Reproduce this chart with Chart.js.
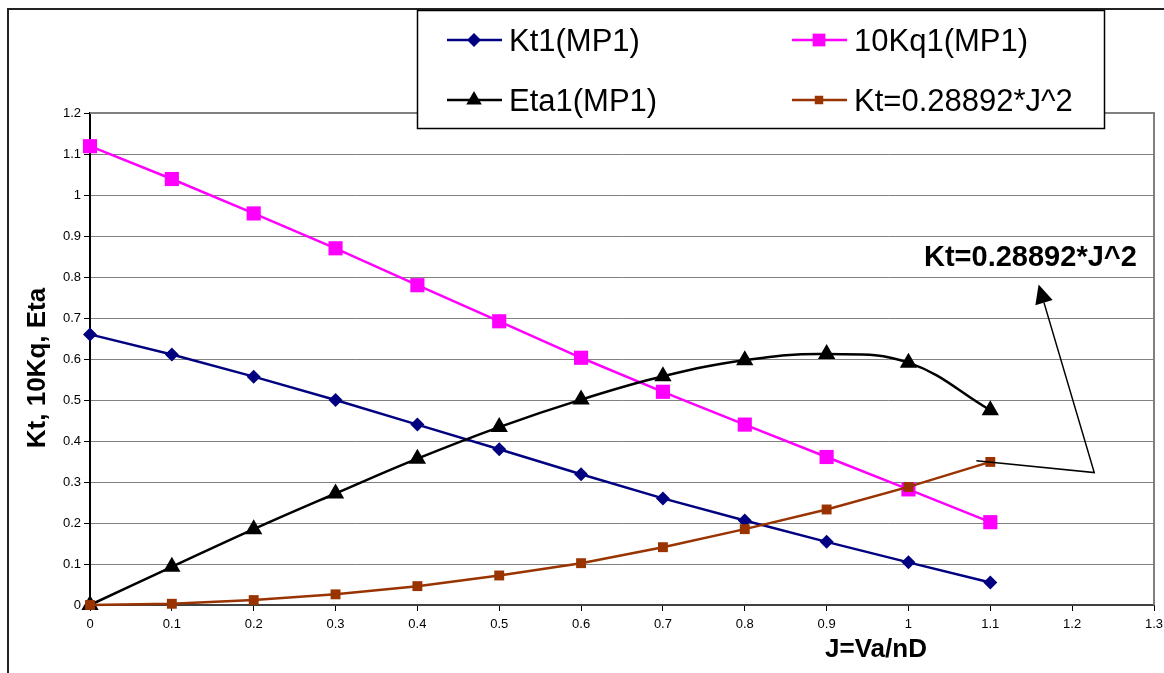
<!DOCTYPE html>
<html>
<head>
<meta charset="utf-8">
<script src="https://cdn.jsdelivr.net/npm/chart.js@4.4.1/dist/chart.umd.min.js"></script>
<style>
html,body{margin:0;padding:0;background:#fff;overflow:hidden}
#wrap{width:1164px;height:673px;position:relative}
</style>
</head>
<body>
<div id="wrap"><canvas id="c" width="1164" height="673"></canvas></div>
<script>
// ---- data ----
const J        = [0, 0.1, 0.2, 0.3, 0.4, 0.5, 0.6, 0.7, 0.8, 0.9, 1.0, 1.1];
const kt1      = [0.66, 0.611, 0.557, 0.5, 0.44, 0.38, 0.319, 0.26, 0.206, 0.154, 0.104, 0.055];
const kq10     = [1.119, 1.039, 0.955, 0.87, 0.78, 0.692, 0.603, 0.52, 0.44, 0.361, 0.282, 0.202];
const eta1     = [0, 0.093, 0.185, 0.272, 0.357, 0.434, 0.501, 0.558, 0.597, 0.612, 0.591, 0.475];
const ktFit    = [0, 0.003, 0.012, 0.026, 0.046, 0.072, 0.102, 0.141, 0.185, 0.233, 0.288, 0.349];
const seriesLabels = ['Kt1(MP1)', '10Kq1(MP1)', 'Eta1(MP1)', 'Kt=0.28892*J^2'];
const xTitle = 'J=Va/nD';
const yTitle = 'Kt, 10Kq, Eta';
const annoText = 'Kt=0.28892*J^2';
// annotation arrow path in data units: start, corner, tip
const annoPath = [[1.083, 0.352], [1.227, 0.323], [1.159, 0.782]];
const annoTextPos = [1.019, 0.826];

const FONT = '"Liberation Sans", Arial, Helvetica, sans-serif';
const pts = arr => J.map((x, i) => ({x: x, y: arr[i]}));

function marker(ctx, style, x, y, r, color) {
  ctx.save();
  ctx.fillStyle = color;
  ctx.beginPath();
  if (style === 'rectRot') {
    ctx.moveTo(x, y - r); ctx.lineTo(x + r, y); ctx.lineTo(x, y + r); ctx.lineTo(x - r, y);
  } else if (style === 'rect') {
    const h = r * Math.SQRT1_2;
    ctx.rect(x - h, y - h, 2 * h, 2 * h);
  } else if (style === 'triangle') {
    for (let k = 0; k < 3; k++) {
      const a = k * 2 * Math.PI / 3;
      const px = x + Math.sin(a) * r, py = y - Math.cos(a) * r;
      if (k === 0) ctx.moveTo(px, py); else ctx.lineTo(px, py);
    }
  }
  ctx.closePath();
  ctx.fill();
  ctx.restore();
}

const styles = [
  {color: '#000080', style: 'rectRot', r: 7, lr: 7},
  {color: '#FF00FF', style: 'rect', r: 10, lr: 9},
  {color: '#000000', style: 'triangle', r: 10, lr: 9},
  {color: '#993300', style: 'rect', r: 7, lr: 6}
];

const decor = {
  id: 'decor',
  beforeDraw(chart) {
    const ctx = chart.ctx;
    ctx.save();
    ctx.fillStyle = '#fff';
    ctx.fillRect(0, 0, chart.width, chart.height);
    ctx.restore();
  },
  beforeDatasetsDraw(chart) {
    const {ctx, chartArea: a} = chart;
    ctx.save();
    ctx.strokeStyle = '#808080';
    ctx.lineWidth = 2;
    ctx.beginPath();
    ctx.moveTo(a.left, a.top);
    ctx.lineTo(a.right, a.top);
    ctx.lineTo(a.right, a.bottom);
    ctx.stroke();
    ctx.restore();
  },
  afterDraw(chart) {
    const {ctx, scales: {x, y}} = chart;
    ctx.save();
    // outer frame
    ctx.strokeStyle = '#222';
    ctx.lineWidth = 2;
    ctx.beginPath();
    ctx.moveTo(8, 673); ctx.lineTo(8, 9); ctx.lineTo(1164, 9);
    ctx.stroke();

    // axis titles
    ctx.fillStyle = '#000';
    ctx.font = 'bold 26px ' + FONT;
    ctx.textAlign = 'center';
    ctx.textBaseline = 'alphabetic';
    ctx.fillText(xTitle, 876, 657);
    ctx.save();
    ctx.translate(45, 368);
    ctx.rotate(-Math.PI / 2);
    ctx.fillText(yTitle, 0, 0);
    ctx.restore();

    // annotation
    const p = annoPath.map(q => [x.getPixelForValue(q[0]), y.getPixelForValue(q[1])]);
    ctx.strokeStyle = '#000';
    ctx.lineWidth = 1.5;
    ctx.beginPath();
    ctx.moveTo(p[0][0], p[0][1]);
    ctx.lineTo(p[1][0], p[1][1]);
    const dx = p[2][0] - p[1][0], dy = p[2][1] - p[1][1];
    const len = Math.hypot(dx, dy), ux = dx / len, uy = dy / len;
    const headL = 19, headW = 9;
    const bx = p[2][0] - ux * headL, by = p[2][1] - uy * headL;
    ctx.lineTo(bx, by);
    ctx.stroke();
    ctx.fillStyle = '#000';
    ctx.beginPath();
    ctx.moveTo(p[2][0], p[2][1]);
    ctx.lineTo(bx - uy * headW, by + ux * headW);
    ctx.lineTo(bx + uy * headW, by - ux * headW);
    ctx.closePath();
    ctx.fill();
    ctx.font = 'bold 29px ' + FONT;
    ctx.textAlign = 'left';
    ctx.fillText(annoText, x.getPixelForValue(annoTextPos[0]), y.getPixelForValue(annoTextPos[1]));

    // legend box
    ctx.fillStyle = '#fff';
    ctx.fillRect(417, 10, 688, 119);
    ctx.strokeStyle = '#000';
    ctx.lineWidth = 1.5;
    ctx.strokeRect(417.5, 10.5, 687, 118);
    const slots = [[447, 40], [792, 40], [447, 100], [792, 100]];
    ctx.font = '31px ' + FONT;
    ctx.textBaseline = 'alphabetic';
    seriesLabels.forEach((lab, i) => {
      const [lx, ly] = slots[i];
      const s = styles[i];
      ctx.strokeStyle = s.color;
      ctx.lineWidth = 2.5;
      ctx.beginPath();
      ctx.moveTo(lx, ly); ctx.lineTo(lx + 55, ly);
      ctx.stroke();
      marker(ctx, s.style, lx + 27, ly, s.lr, s.color);
      ctx.fillStyle = '#000';
      ctx.fillText(lab, lx + 62, ly + 11);
    });
    ctx.restore();
  }
};

const mk = (i, data, order, tension) => ({
  label: seriesLabels[i],
  data: pts(data),
  borderColor: styles[i].color,
  backgroundColor: styles[i].color,
  borderWidth: 2.5,
  pointStyle: styles[i].style,
  pointRadius: styles[i].r,
  pointHoverRadius: styles[i].r,
  pointBorderWidth: 0,
  pointBackgroundColor: styles[i].color,
  tension: tension,
  fill: false,
  clip: false,
  order: order
});

new Chart(document.getElementById('c'), {
  type: 'line',
  data: {
    datasets: [
      mk(0, kt1, 3, 0),
      mk(1, kq10, 2, 0),
      mk(2, eta1, 1, 0.4),
      mk(3, ktFit, 0, 0)
    ]
  },
  options: {
    responsive: false,
    animation: false,
    devicePixelRatio: 1,
    layout: {padding: {top: 113, right: 8, left: 0, bottom: 0}},
    plugins: {legend: {display: false}, tooltip: {enabled: false}, title: {display: false}},
    scales: {
      x: {
        type: 'linear', min: 0, max: 1.3,
        afterFit(s) { s.height = 68; s.paddingRight = 0; s.paddingLeft = 0; },
        grid: {drawOnChartArea: false, drawTicks: true, tickLength: 6, tickColor: '#000', tickWidth: 1},
        border: {display: true, color: '#404040', width: 2},
        ticks: {
          stepSize: 0.1, autoSkip: false, maxRotation: 0, padding: 6,
          color: '#000', font: {family: FONT, size: 13},
          callback: v => String(Math.round(v * 10) / 10)
        }
      },
      y: {
        type: 'linear', min: 0, max: 1.2,
        afterFit(s) { s.width = 90; s.paddingTop = 0; s.paddingBottom = 0; },
        grid: {color: '#808080', lineWidth: 1, drawTicks: true, tickLength: 6, tickColor: '#000'},
        border: {display: true, color: '#000', width: 2},
        ticks: {
          stepSize: 0.1, autoSkip: false, padding: 3,
          color: '#000', font: {family: FONT, size: 13},
          callback: v => String(Math.round(v * 10) / 10)
        }
      }
    }
  },
  plugins: [decor]
});
</script>
</body>
</html>
